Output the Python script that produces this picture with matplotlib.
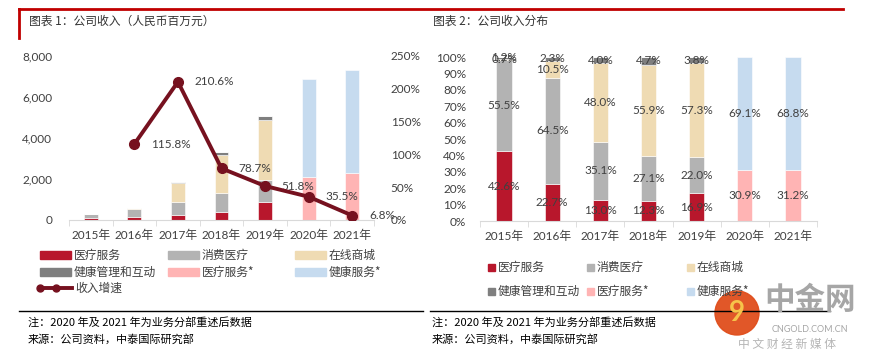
import numpy as np
import matplotlib.pyplot as plt
from matplotlib.patches import Rectangle, Circle
from matplotlib.lines import Line2D

plt.rcParams['font.family'] = ['Lato', 'Noto Sans CJK SC', 'DejaVu Sans']

# ── data ──────────────────────────────────────────────────────────────────
years       = ["2015年", "2016年", "2017年", "2018年", "2019年", "2020年", "2021年"]
total_rev   = [279, 603, 1868, 3338, 5065, 6866, 7333]          # 人民币百万元
seg_names   = ["医疗服务", "消费医疗", "在线商城", "健康管理和互动", "医疗服务*", "健康服务*"]
seg_share   = {                                                  # % of revenue
    "医疗服务":       [42.6, 22.7, 13.0, 12.3, 16.9, 0, 0],
    "消费医疗":       [55.5, 64.5, 35.1, 27.1, 22.0, 0, 0],
    "在线商城":       [0.7, 10.5, 48.0, 55.9, 57.3, 0, 0],
    "健康管理和互动": [1.2, 2.3, 4.0, 4.7, 3.8, 0, 0],
    "医疗服务*":      [0, 0, 0, 0, 0, 30.9, 31.2],
    "健康服务*":      [0, 0, 0, 0, 0, 69.1, 68.8],
}
growth_years = years[1:]
growth       = [115.8, 210.6, 78.7, 51.8, 35.5, 6.8]
growth_name  = "收入增速"

colors = {
    "医疗服务":       "#B8172C",
    "消费医疗":       "#B3B3B3",
    "在线商城":       "#EFDBB3",
    "健康管理和互动": "#7F7F7F",
    "医疗服务*":      "#FFB4B4",
    "健康服务*":      "#C6DBEF",
}
line_color = "#76111F"
txt = "#404040"

W, H = 871, 362
fig = plt.figure(figsize=(W / 100, H / 100), dpi=100)


def px_axes(x0, y0, x1, y1):
    return fig.add_axes([x0 / W, 1 - y1 / H, (x1 - x0) / W, (y1 - y0) / H])


def style_cat_axis(ax):
    for s in ["top", "right", "left"]:
        ax.spines[s].set_visible(False)
    ax.spines["bottom"].set_color("#D9D9D9")
    ax.set_xlim(-0.5, len(years) - 0.5)
    ax.set_xticks(range(len(years)))
    ax.set_xticklabels(years, fontsize=8.5, color=txt)
    ax.tick_params(axis="x", which="major", length=0, pad=7)
    ax.set_xticks(np.arange(-0.5, len(years)), minor=True)
    ax.tick_params(axis="x", which="minor", length=4, color="#D9D9D9")
    ax.tick_params(axis="y", length=0, labelsize=8.5, labelcolor=txt)


x = np.arange(len(years))
bw = 0.32

# ── chart 1: revenue stacked bars + growth line ─────────────────────────
ax1 = px_axes(69, 56, 374, 220)
bottom = np.zeros(len(years))
for name in seg_names:
    vals = np.array(seg_share[name]) / 100 * np.array(total_rev)
    ax1.bar(x, vals, bw, bottom=bottom, color=colors[name],
            edgecolor="white", linewidth=0.4)
    bottom += vals
ax1.set_ylim(0, 8000)
ax1.set_yticks(range(0, 8001, 2000))
ax1.set_yticklabels([f"{v:,}" for v in range(0, 8001, 2000)])
ax1.tick_params(axis="y", pad=12)
style_cat_axis(ax1)

ax1b = ax1.twinx()
gx = [years.index(y) for y in growth_years]
ax1b.plot(gx, growth, color=line_color, linewidth=2.8, marker="o",
          markersize=7, zorder=5)
for xi, g in zip(gx, growth):
    ax1b.annotate(f"{g:.1f}%", (xi, g), xytext=(12, 0), textcoords="offset points",
                  va="center", ha="left", fontsize=8.5, color=txt)
ax1b.set_ylim(0, 250)
ax1b.set_yticks(range(0, 251, 50))
ax1b.set_yticklabels([f"{v}%" for v in range(0, 251, 50)])
ax1b.tick_params(axis="y", length=0, labelsize=8.5, labelcolor=txt, pad=12)
for s in ax1b.spines.values():
    s.set_visible(False)

# ── chart 2: revenue share 100% stacked bars ────────────────────────────
ax2 = px_axes(480, 57, 817, 221)
bottom = np.zeros(len(years))
for name in seg_names:
    vals = np.array(seg_share[name], dtype=float)
    ax2.bar(x, vals, bw, bottom=bottom, color=colors[name],
            edgecolor="white", linewidth=0.4)
    for xi, b, v in zip(x, bottom, vals):
        if v > 0:
            ax2.text(xi, b + v / 2, f"{v:.1f}%", ha="center", va="center",
                     fontsize=8.5, color=txt)
    bottom += vals
ax2.set_ylim(0, 100)
ax2.set_yticks(range(0, 101, 10))
ax2.set_yticklabels([f"{v}%" for v in range(0, 101, 10)])
ax2.tick_params(axis="y", pad=10)
style_cat_axis(ax2)

# ── frame, titles, legends, notes (pixel overlay) ───────────────────────
ov = fig.add_axes([0, 0, 1, 1], zorder=-1)
ov.set_xlim(0, W)
ov.set_ylim(H, 0)
ov.axis("off")
ov.patch.set_alpha(0)

ov.plot([19, 843], [9, 9], color="#C00000", linewidth=2)
ov.plot([19, 19], [9, 38], color="#C00000", linewidth=2)
ov.text(29, 21, "图表 1：公司收入（人民币百万元）", fontsize=8.5, color="#333333",
        va="center", family=["Noto Sans CJK SC"])
ov.text(433, 21, "图表 2：公司收入分布", fontsize=8.5, color="#333333",
        va="center", family=["Noto Sans CJK SC"])

# left legend
pos1 = [(40, 255), (168, 255), (295, 255), (40, 272), (168, 272), (295, 272)]
for name, (lx, ly) in zip(seg_names, pos1):
    ov.add_patch(Rectangle((lx, ly - 4), 31, 8, color=colors[name]))
    ov.text(lx + 34, ly, name, fontsize=8.5, color=txt, va="center",
            family=["Noto Sans CJK SC"])
ov.add_line(Line2D([40, 72], [288, 288], color=line_color, linewidth=2.8,
                   marker="o", markersize=5, markevery=[0]))
ov.plot([56], [288], marker="o", color=line_color, markersize=5)
ov.text(75, 288, growth_name, fontsize=8.5, color=txt, va="center",
        family=["Noto Sans CJK SC"])

# right legend
pos2 = [(488, 267), (587, 267), (687, 267), (488, 291), (587, 291), (687, 291)]
for name, (lx, ly) in zip(seg_names, pos2):
    ov.add_patch(Rectangle((lx, ly - 3.5), 7, 7, color=colors[name]))
    ov.text(lx + 10, ly, name, fontsize=8.5, color=txt, va="center",
            family=["Noto Sans CJK SC"])

# notes
ov.plot([19, 423], [311, 311], color="black", linewidth=1)
ov.plot([430, 830], [311, 311], color="black", linewidth=1)
for nx in (28, 432):
    ov.text(nx, 322, "注：2020 年及 2021 年为业务分部重述后数据", fontsize=8,
            color="black", va="center", family=["Noto Sans CJK SC"])
    ov.text(nx, 339, "来源：公司资料，中泰国际研究部", fontsize=8,
            color="black", va="center", family=["Noto Sans CJK SC"])

# watermark
ov.add_patch(Circle((737, 313), 22, color="#E04E1C", alpha=0.95))
ov.text(737, 313, "9", fontsize=20, fontweight="bold", color="#F6C34A",
        ha="center", va="center")
ov.text(810, 300, "中金网", fontsize=22, fontweight="bold", color="#A6A6A6",
        ha="center", va="center", family=["Noto Sans CJK SC"])
ov.text(810, 330, "CNGOLD.COM.CN", fontsize=6.5, color="#A6A6A6",
        ha="center", va="center")
ov.text(787, 344, "中 文 财 经 新 媒 体", fontsize=8.5, color="#B5B5B5",
        ha="center", va="center", family=["Noto Sans CJK SC"])

fig.savefig("out.png", dpi=100)
